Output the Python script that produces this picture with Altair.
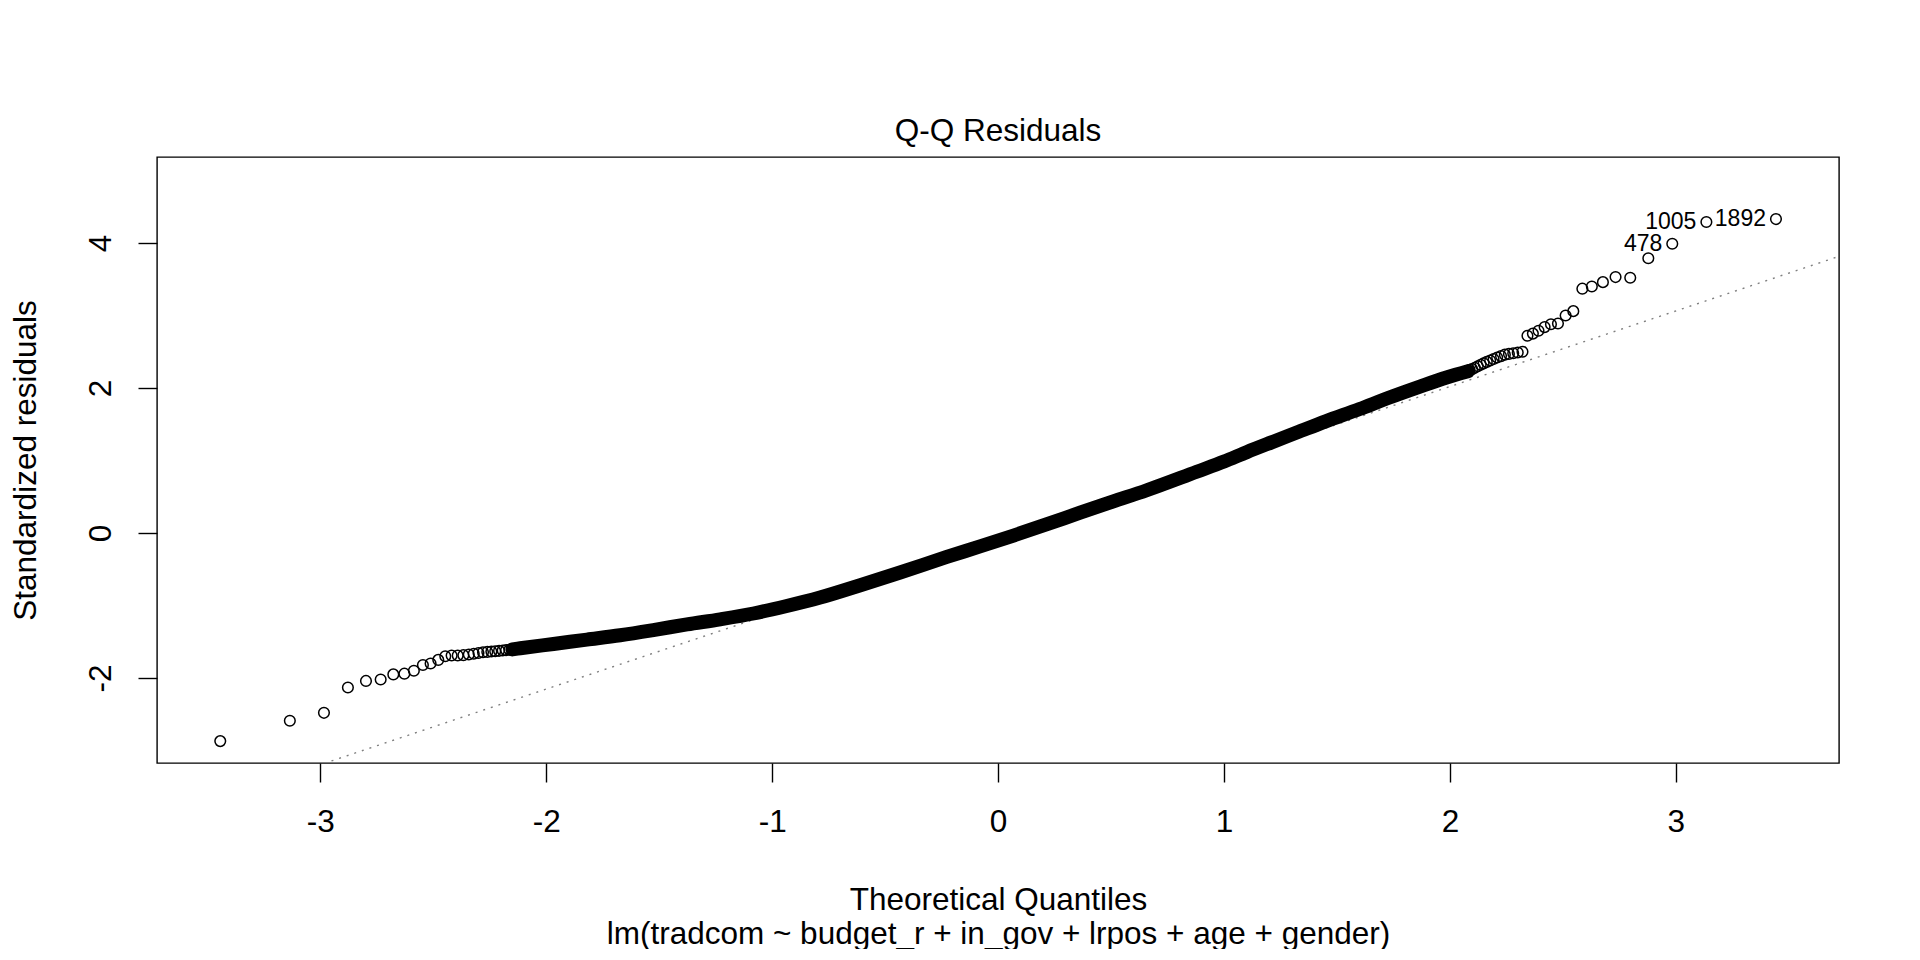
import altair as alt
import pandas as pd

# ---------------- text ----------------
main_title = "Q-Q Residuals"
x_title = "Theoretical Quantiles"
sub_caption = "lm(tradcom ~ budget_r + in_gov + lrpos + age + gender)"
y_title = "Standardized residuals"

x_ticks = [-3, -2, -1, 0, 1, 2, 3]
y_ticks = [-2, 0, 2, 4]
x_range = [-3.723, 3.722]
y_range = [-3.172, 5.186]

# ---------------- data ----------------
# lower tail: theoretical quantile / standardized residual
lo_x = [-3.443, -3.135, -2.984, -2.878, -2.798, -2.733, -2.677, -2.628, -2.586,
        -2.546, -2.512, -2.478, -2.447, -2.419, -2.392, -2.367, -2.343, -2.321,
        -2.300, -2.280, -2.261, -2.243, -2.226, -2.209, -2.193, -2.178, -2.163]
lo_y = [-2.87, -2.59, -2.48, -2.13, -2.04, -2.02, -1.95, -1.94, -1.90,
        -1.82, -1.80, -1.75, -1.70, -1.69, -1.69, -1.685, -1.675, -1.665,
        -1.655, -1.645, -1.64, -1.635, -1.63, -1.625, -1.62, -1.615, -1.61]

# upper tail
hi_x = [3.443, 3.135, 2.984, 2.878, 2.798, 2.733, 2.677, 2.628, 2.586, 2.546,
        2.512, 2.478, 2.447, 2.419, 2.392, 2.367, 2.343, 2.321, 2.300, 2.280,
        2.261, 2.243, 2.226, 2.209, 2.193, 2.178, 2.163, 2.149, 2.136, 2.123,
        2.110, 2.098, 2.087]
hi_y = [4.33, 4.29, 3.99, 3.79, 3.52, 3.53, 3.46, 3.40, 3.37, 3.06,
        3.00, 2.89, 2.88, 2.84, 2.79, 2.75, 2.72, 2.50, 2.49, 2.48,
        2.47, 2.46, 2.44, 2.42, 2.40, 2.38, 2.36, 2.34, 2.32, 2.30,
        2.28, 2.26, 2.25]

# dense centre: overlapping points form a solid band
band_x = [-2.15, -2.115, -1.968, -1.82, -1.673, -1.52, -1.377, -1.23, -1.083,
          -0.94, -0.788, -0.61, -0.434, -0.227, -0.08, 0.068, 0.22, 0.363,
          0.51, 0.658, 0.879, 1.00, 1.10, 1.21, 1.322, 1.45, 1.60, 1.72,
          1.867, 1.985, 2.08]
band_y = [-1.605, -1.59, -1.53, -1.47, -1.41, -1.335, -1.26, -1.19, -1.11,
          -1.01, -0.89, -0.72, -0.545, -0.33, -0.185, -0.035, 0.125, 0.28,
          0.435, 0.59, 0.845, 0.985, 1.115, 1.25, 1.385, 1.54, 1.71, 1.855,
          2.02, 2.145, 2.23]

# labelled observations
id_labels = ["1892", "1005", "478"]
id_x = [3.443, 3.135, 2.984]
id_y = [4.33, 4.29, 3.99]

# reference line through the quartiles
qq_intercept = -0.066
qq_slope = 1.043

# ---------------- tables ----------------
pts = pd.DataFrame({"x": lo_x + hi_x, "y": lo_y + hi_y})
band = pd.DataFrame({"x": band_x, "y": band_y})
ids = pd.DataFrame({"x": id_x, "y": id_y, "label": id_labels})
qq = pd.DataFrame({"x": x_range,
                   "y": [qq_intercept + qq_slope * v for v in x_range]})

FONT = "Liberation Sans"
FS = 31.5
W, H = 1682, 606

xs = alt.Scale(domain=x_range, nice=False, zero=False)
ys = alt.Scale(domain=y_range, nice=False, zero=False)

x_axis = alt.Axis(
    values=x_ticks, grid=False, domain=False, tickSize=19, tickWidth=1.4,
    tickColor="black", labelFontSize=FS, labelFont=FONT, labelColor="black",
    labelPadding=49, labelBaseline="alphabetic", labelFlush=False,
    labelOverlap=False, labelExpr="'' + datum.value",
    title=[x_title, sub_caption], titleFont=FONT, titleFontSize=FS,
    titleFontWeight="normal", titleColor="black", titleBaseline="alphabetic",
    titleAlign="center", titleX=W / 2, titleY=146, titleLineHeight=34,
)
y_axis = alt.Axis(
    values=y_ticks, grid=False, domain=False, tickSize=19, tickWidth=1.4,
    tickColor="black", labelFontSize=FS, labelFont=FONT, labelColor="black",
    labelAngle=270, labelAlign="center", labelBaseline="alphabetic",
    labelPadding=28, labelFlush=False, labelOverlap=False,
    labelExpr="'' + datum.value",
    title=y_title, titleFont=FONT, titleFontSize=FS, titleFontWeight="normal",
    titleColor="black", titleAngle=270, titleAlign="center",
    titleBaseline="alphabetic", titleX=-122, titleY=H / 2,
)

qq_line = alt.Chart(qq).mark_line(
    color="#7F7F7F", strokeWidth=1.4, strokeDash=[2, 6], clip=True
).encode(
    x=alt.X("x:Q", scale=xs, axis=x_axis),
    y=alt.Y("y:Q", scale=ys, axis=y_axis),
)

band_line = alt.Chart(band).mark_line(
    color="black", strokeWidth=14, strokeCap="round", strokeJoin="round",
    interpolate="monotone"
).encode(x=alt.X("x:Q", scale=xs), y=alt.Y("y:Q", scale=ys))

points = alt.Chart(pts).mark_point(
    shape="circle", filled=False, color="black", size=113, strokeWidth=1.5,
    opacity=1
).encode(x=alt.X("x:Q", scale=xs), y=alt.Y("y:Q", scale=ys))

labels = alt.Chart(ids).mark_text(
    align="right", baseline="middle", dx=-10, fontSize=23, font=FONT,
    color="black"
).encode(x=alt.X("x:Q", scale=xs), y=alt.Y("y:Q", scale=ys), text="label:N")

chart = alt.layer(qq_line, band_line, points, labels).properties(
    width=W, height=H,
    title=alt.TitleParams(main_title, font=FONT, fontSize=FS,
                          fontWeight="normal", color="black",
                          anchor="middle", frame="group",
                          baseline="alphabetic", offset=16, dy=31),
    autosize=alt.AutoSizeParams(type="none"),
    padding={"left": 149, "top": 149, "right": 60, "bottom": 186},
).configure(
    background="white",
    view=alt.ViewConfig(stroke="black", strokeWidth=1.4, fill="white"),
)

chart.save("out.html", embed_options={"renderer": "svg", "actions": False})
